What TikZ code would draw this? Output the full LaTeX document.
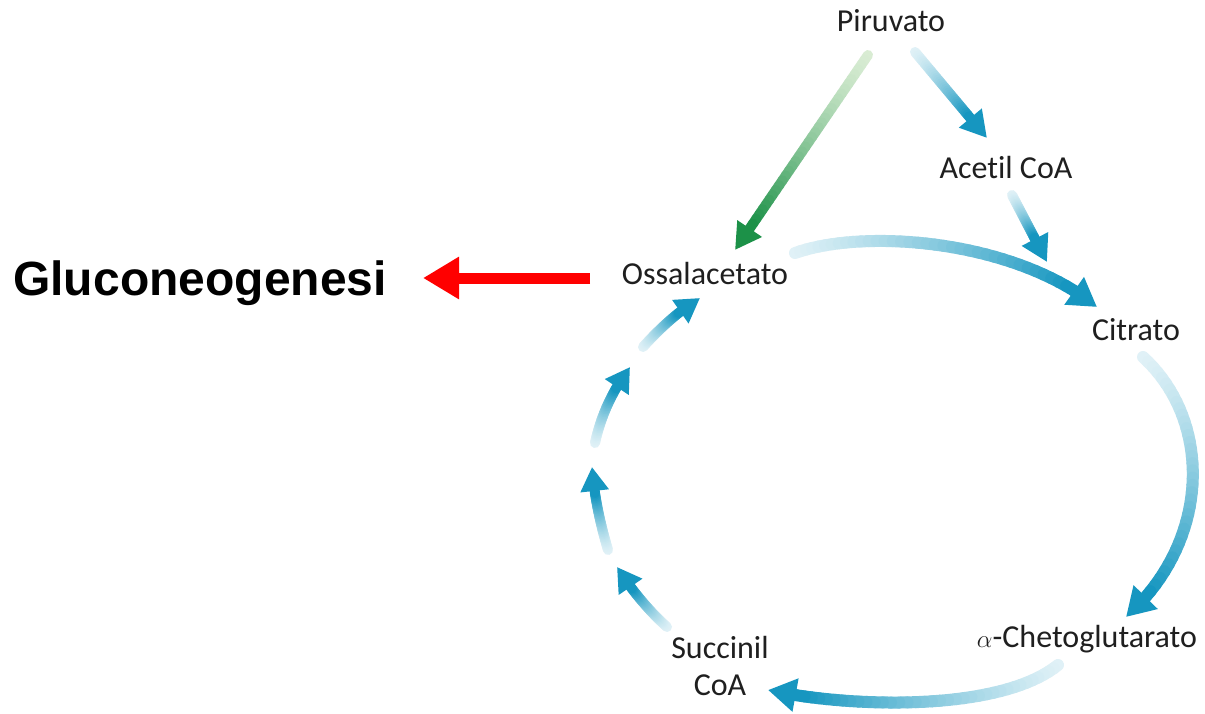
\documentclass[tikz,border=0pt]{standalone}
\usepackage{fontspec}
\setmainfont{Carlito}[Ligatures=NoCommon]
\newfontfamily\glfont{Liberation Sans}
\usetikzlibrary{arrows.meta}
\definecolor{tealD}{RGB}{22,150,192}
\definecolor{tealL}{RGB}{225,242,247}
\definecolor{grnD}{RGB}{28,145,72}
\definecolor{grnL}{RGB}{218,237,212}
\definecolor{redA}{RGB}{255,0,0}
% #1 path (one segment), #2 light colour, #3 dark colour, #4 head start (pos), #5 shaft width, #6 tip options
\newcommand\gradarrow[6]{%
  \foreach \i in {1,...,36}{%
    \pgfmathsetmacro\ta{(\i-1)/36*#4}%
    \pgfmathsetmacro\tb{\i/36*#4}%
    \pgfmathsetmacro\cc{100*(\i/36)^1.4}%
    \path #1 coordinate[pos=\ta] (ga) coordinate[pos=\tb] (gb);%
    \draw[line width=#5, line cap=round, #3!\cc!#2] (ga) -- (gb);%
  }%
  \path #1 coordinate[pos=#4] (gh) coordinate[pos=1] (ge);%
  \draw[line width=#5, #3, -{Triangle[#6]}] (gh) -- (ge);%
}
\begin{document}
\begin{tikzpicture}[x=1pt,y=-1pt,
  lab/.style={font=\fontsize{32}{37}\selectfont, inner sep=0pt, anchor=base, text=black!88},
  big/.style={font=\glfont\bfseries\fontsize{48}{56}\selectfont, inner sep=0pt, anchor=base},
  redarrow/.style={draw=redA, line width=11pt, -{Triangle[width=40pt,length=36pt]}}]
\useasboundingbox[fill=white] (0,0) rectangle (1205,714);
% labels
\node[lab] (pir) at (891,32) {Piruvato};
\node[lab] (acet) at (1006,179) {Acetil CoA};
\node[lab] (oss) at (705,284) {Ossalacetato};
\node[lab] (cit) at (1136,340) {Citrato};
\node[lab] (akg) at (1087,647) {$\alpha$-Chetoglutarato};
\node[lab, anchor=center, align=center] (succ) at (720,666) {Succinil\\CoA};
\node[big] (gluco) at (200,295) {Gluconeogenesi};
% connector end points
\coordinate (pirR) at (915,52);   \coordinate (acetT) at (987,138);
\coordinate (acetB) at (1012,195); \coordinate (citT) at (1047,262);
\coordinate (pirL) at (868,55);   \coordinate (ossT) at (735,250);
\coordinate (ossR) at (795,253);  \coordinate (citL) at (1097,307);
\coordinate (citB) at (1143,357); \coordinate (akgT) at (1126,617);
\coordinate (akgB) at (1058,665); \coordinate (succR) at (768,690);
\coordinate (succT) at (667,627); \coordinate (l1) at (617,567);
\coordinate (l2a) at (608,550);   \coordinate (l2) at (592,467);
\coordinate (l3a) at (595,443);   \coordinate (l3) at (630,367);
\coordinate (l4a) at (643,347);   \coordinate (ossB) at (700,298);
\coordinate (ossW) at (590,278);  \coordinate (glE) at (423,278);
% arrows
\gradarrow{(pirR) -- (acetT)}{tealL}{tealD}{0.77}{10pt}{width=28pt,length=26pt}
\gradarrow{(acetB) -- (citT)}{tealL}{tealD}{0.66}{10pt}{width=28pt,length=26pt}
\gradarrow{(pirL) -- (ossT)}{grnL}{grnD}{0.89}{10pt}{width=28pt,length=26pt}
\gradarrow{(ossR) .. controls (865,228) and (1015,240) .. (citL)}{tealL}{tealD}{0.91}{12pt}{width=32pt,length=28pt}
\gradarrow{(citB) .. controls (1212,420) and (1212,540) .. (akgT)}{tealL}{tealD}{0.92}{12pt}{width=32pt,length=28pt}
\gradarrow{(akgB) .. controls (1000,712) and (850,708) .. (succR)}{tealL}{tealD}{0.89}{12pt}{width=32pt,length=28pt}
\gradarrow{(succT) .. controls (648,610) and (630,588) .. (l1)}{tealL}{tealD}{0.68}{10pt}{width=27pt,length=24pt}
\gradarrow{(l2a) .. controls (600,523) and (594,495) .. (l2)}{tealL}{tealD}{0.71}{10pt}{width=27pt,length=24pt}
\gradarrow{(l3a) .. controls (601,415) and (613,390) .. (l3)}{tealL}{tealD}{0.72}{10pt}{width=27pt,length=24pt}
\gradarrow{(l4a) .. controls (660,328) and (680,310) .. (ossB)}{tealL}{tealD}{0.66}{10pt}{width=27pt,length=24pt}
\draw[redarrow] (ossW) -- (glE);
\end{tikzpicture}
\end{document}
